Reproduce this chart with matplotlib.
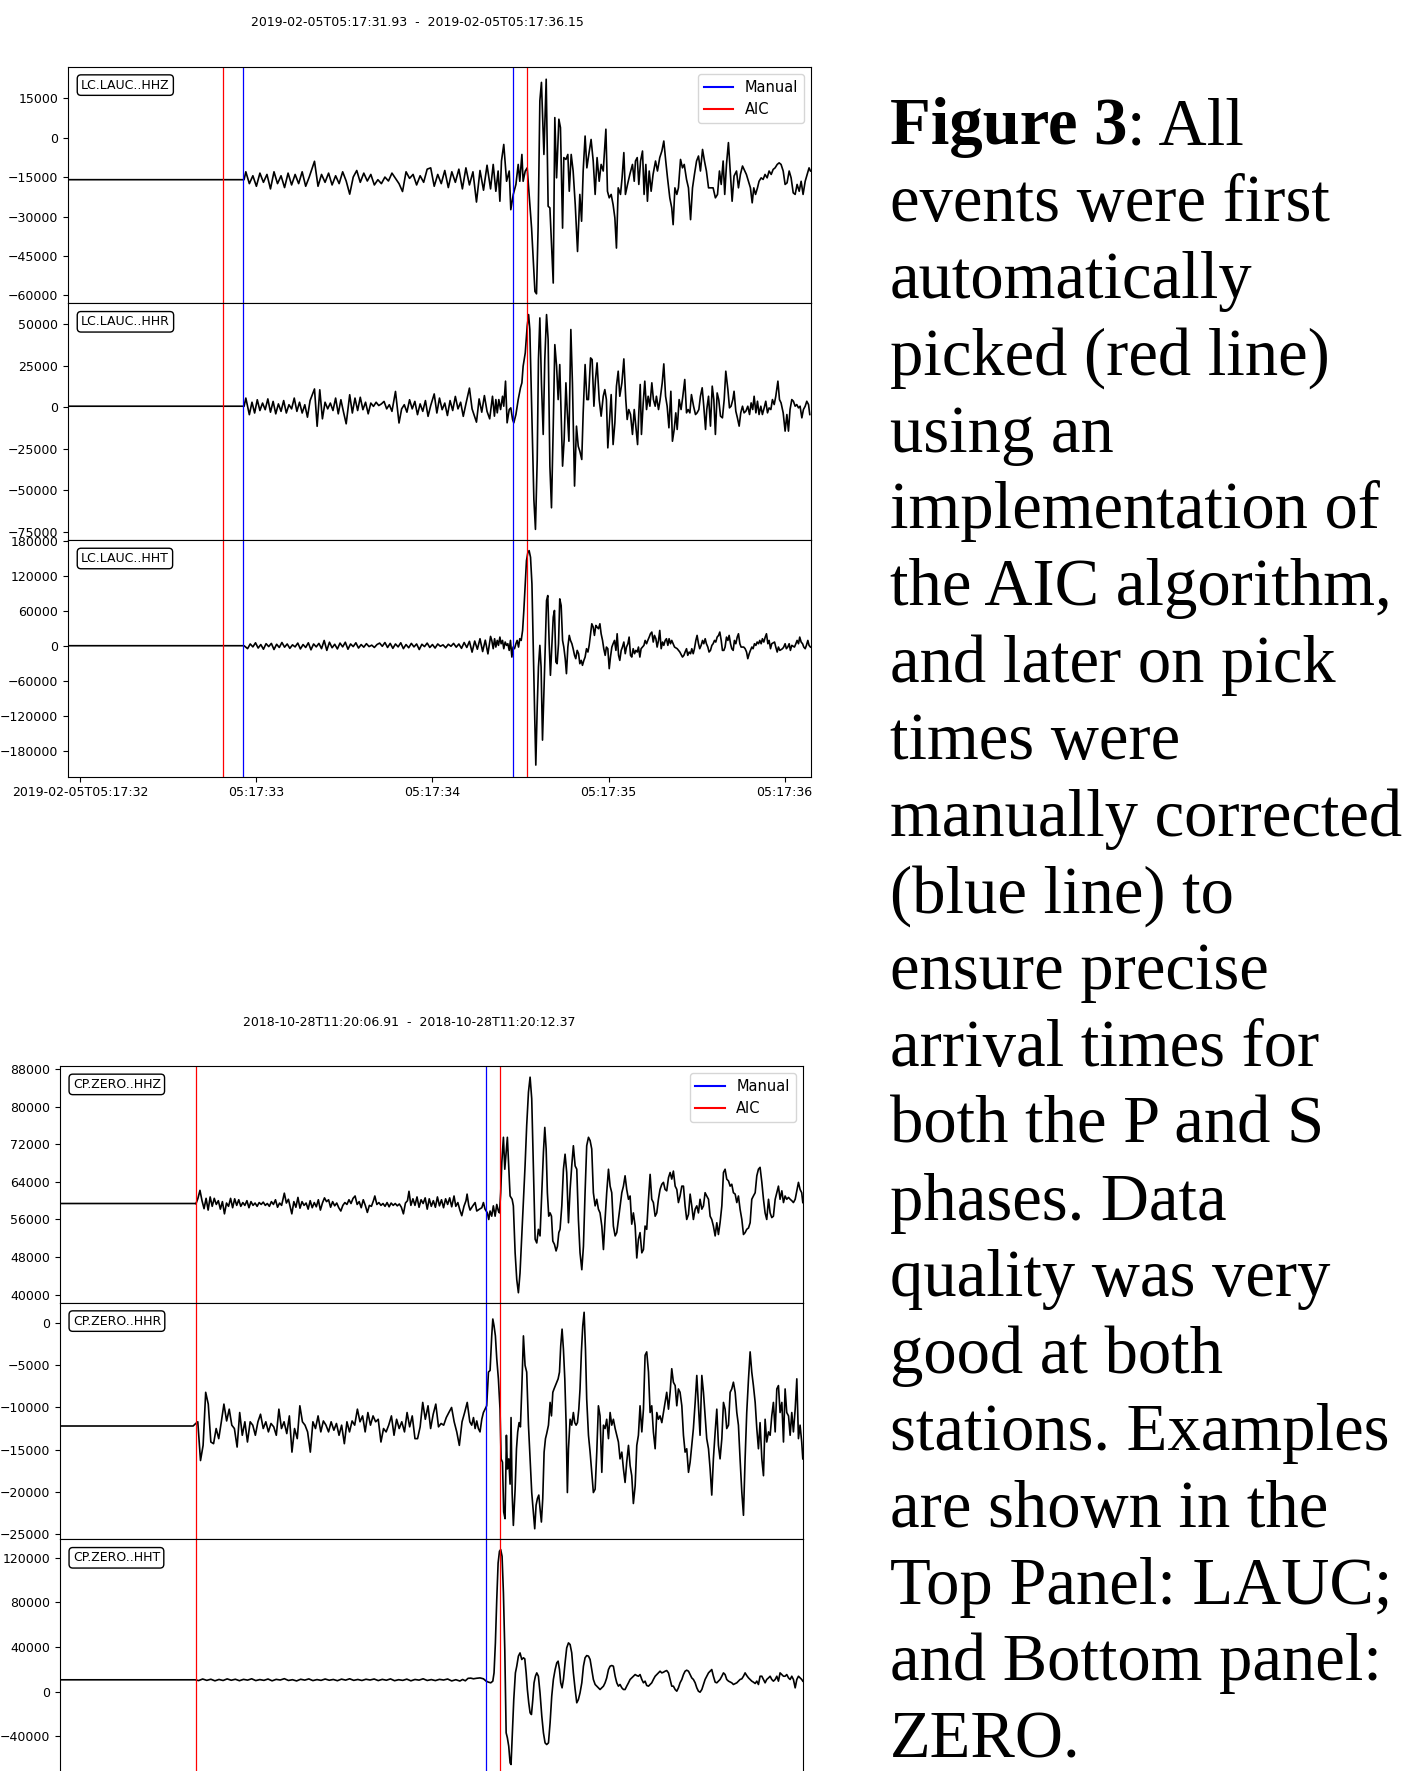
import numpy as np
import matplotlib
matplotlib.use("Agg")
import matplotlib.pyplot as plt
from matplotlib.lines import Line2D

# ---------------- data (time in s after the minute, amplitude in 1000 counts) ----------------
lauc_title = "2019-02-05T05:17:31.93  -  2019-02-05T05:17:36.15"
lauc_labels = ["LC.LAUC..HHZ", "LC.LAUC..HHR", "LC.LAUC..HHT"]
lauc_xlim = (31.93, 36.15)
lauc_xticks = [32, 33, 34, 35, 36]
lauc_xticklabels = ["2019-02-05T05:17:32", "05:17:33", "05:17:34", "05:17:35", "05:17:36"]
lauc_aic = [32.81, 34.537]
lauc_manual = [32.926, 34.459]
lauc_ylims = [(-63000, 27000), (-80000, 62600), (-224500, 181200)]
lauc_yticks = [[15000, 0, -15000, -30000, -45000, -60000],
               [50000, 25000, 0, -25000, -50000, -75000],
               [180000, 120000, 60000, 0, -60000, -120000, -180000]]

zero_title = "2018-10-28T11:20:06.91  -  2018-10-28T11:20:12.37"
zero_labels = ["CP.ZERO..HHZ", "CP.ZERO..HHR", "CP.ZERO..HHT"]
zero_xlim = (6.91, 12.37)
zero_aic = [7.909, 10.148]
zero_manual = [10.045]
zero_ylims = [(38300, 88700), (-25650, 2450), (-75700, 136400)]
zero_yticks = [[88000, 80000, 72000, 64000, 56000, 48000, 40000],
               [0, -5000, -10000, -15000, -20000, -25000],
               [120000, 80000, 40000, 0, -40000]]

lauc_hhz = [
    (31.93, -16.0), (32.92, -16.0), (32.93, -16.0), (32.94, -13.0), (32.96, -17.5), (32.98, -14.5),
    (33.00, -18.5), (33.02, -13.5), (33.04, -17.0), (33.06, -14.0), (33.08, -19.5), (33.10, -13.0),
    (33.12, -17.5), (33.14, -14.5), (33.16, -19.0), (33.18, -13.5), (33.20, -18.0), (33.22, -14.0),
    (33.24, -17.5), (33.26, -13.0), (33.28, -18.5), (33.30, -15.0), (33.33, -9.0), (33.35, -18.5),
    (33.37, -14.0), (33.39, -17.0), (33.41, -13.5), (33.43, -18.0), (33.45, -14.5), (33.47, -17.5),
    (33.49, -13.0), (33.51, -16.5), (33.53, -21.5), (33.55, -15.0), (33.57, -12.5), (33.59, -17.0),
    (33.61, -13.5), (33.63, -16.5), (33.65, -14.0), (33.67, -18.0), (33.69, -16.0), (33.71, -17.5),
    (33.73, -15.0), (33.75, -16.5), (33.77, -13.5), (33.79, -15.5), (33.81, -17.5), (33.83, -20.5),
    (33.85, -13.0), (33.87, -15.5), (33.89, -14.0), (33.91, -18.0), (33.93, -14.5), (33.95, -17.0),
    (33.97, -12.0), (33.99, -11.5), (34.01, -18.5), (34.03, -14.0), (34.05, -17.5), (34.07, -12.5),
    (34.09, -19.0), (34.11, -13.0), (34.13, -17.0), (34.15, -12.0), (34.17, -19.5), (34.19, -11.5),
    (34.21, -18.0), (34.23, -13.0), (34.25, -24.5), (34.27, -12.5), (34.29, -20.0), (34.31, -10.5),
    (34.33, -19.5), (34.345, -10.2), (34.360, -20.4), (34.373, -12.7), (34.383, -24.2), (34.392, -8.9),
    (34.405, -2.6), (34.421, -16.6), (34.436, -12.7), (34.445, -27.4), (34.459, -21.6), (34.474, -17.8),
    (34.487, -10.2), (34.496, -16.6), (34.508, -6.4), (34.515, -16.6), (34.527, -12.7), (34.538, -11.5),
    (34.563, -34.4), (34.582, -58.5), (34.591, -59.4), (34.600, -34.4), (34.610, 14.0), (34.619, 21.0),
    (34.633, -6.4), (34.646, 22.2), (34.657, -26.1), (34.667, -26.7), (34.686, -55.3), (34.695, 7.6),
    (34.705, -15.3), (34.718, 7.0), (34.727, 3.8), (34.739, -34.4), (34.746, -7.6), (34.758, -8.3),
    (34.769, -6.4), (34.777, -20.4), (34.788, -6.4), (34.799, -12.7), (34.811, -25.5), (34.824, -43.3),
    (34.837, -21.6), (34.847, -31.8), (34.856, -12.7), (34.867, 0.6), (34.877, -11.5), (34.888, -6.4),
    (34.901, -0.7), (34.913, -8.9), (34.924, -21.6), (34.935, -7.6), (34.947, -16.6), (34.958, -10.2),
    (34.970, -12.7), (34.985, 3.2), (34.994, -20.4), (35.004, -22.9), (35.015, -21.6), (35.026, -25.5),
    (35.036, -30.5), (35.045, -42.0), (35.055, -19.1), (35.068, -21.6), (35.077, -15.3), (35.087, -5.7),
    (35.096, -21.6), (35.108, -17.8), (35.121, -14.0), (35.136, -10.2), (35.146, -16.6), (35.153, -8.9),
    (35.163, -7.6), (35.172, -17.8), (35.182, -8.9), (35.193, -5.1), (35.202, -21.6), (35.212, -10.2),
    (35.221, -24.2), (35.231, -12.7), (35.242, -20.4), (35.253, -14.0), (35.267, -8.9), (35.278, -12.7),
    (35.291, -7.6), (35.303, -5.1), (35.314, -1.3), (35.325, -8.9), (35.335, -15.3), (35.348, -22.9),
    (35.359, -26.7), (35.367, -33.1), (35.377, -19.1), (35.388, -21.6), (35.397, -19.1), (35.409, -8.3),
    (35.420, -11.5), (35.430, -10.2), (35.443, -15.9), (35.454, -19.1), (35.466, -31.2), (35.477, -19.1),
    (35.488, -14.0), (35.500, -8.9), (35.511, -7.0), (35.522, -12.7), (35.534, -4.5), (35.545, -8.9),
    (35.556, -12.7), (35.568, -19.1), (35.594, -19.1), (35.607, -22.9), (35.619, -21.6), (35.630, -12.7),
    (35.640, -17.8), (35.651, -8.9), (35.660, -21.6), (35.670, -10.2), (35.681, -1.9), (35.691, -12.7),
    (35.702, -24.2), (35.713, -14.6), (35.727, -12.7), (35.738, -19.1), (35.749, -14.0), (35.761, -10.8),
    (35.783, -14.0), (35.795, -16.6), (35.806, -19.1), (35.816, -24.8), (35.825, -19.1), (35.835, -21.6),
    (35.846, -19.1), (35.855, -16.6), (35.867, -15.3), (35.878, -15.9), (35.889, -14.0), (35.901, -15.3),
    (35.912, -12.7), (35.924, -14.0), (35.935, -12.1), (35.946, -11.5), (35.958, -10.2), (35.969, -9.6),
    (35.980, -10.2), (35.992, -12.7), (36.003, -17.8), (36.014, -17.2), (36.026, -12.7), (36.037, -15.3),
    (36.049, -21.0), (36.060, -21.6), (36.071, -17.8), (36.083, -20.4), (36.094, -16.6), (36.105, -21.6),
    (36.117, -16.6), (36.128, -14.0), (36.139, -11.5), (36.147, -12.7),
]

lauc_hhr = [
    (31.93, 0.6), (32.92, 0.6), (32.93, 0.5), (32.94, 5.5), (32.96, -4.5), (32.975, 3.0), (32.99, -3.5),
    (33.005, 4.5), (33.02, -2.0), (33.035, 2.5), (33.05, -1.5), (33.065, 5.0), (33.08, -3.0), (33.095, 3.5),
    (33.11, -4.0), (33.125, 2.0), (33.14, -2.5), (33.155, 4.0), (33.17, -3.5), (33.185, 1.5), (33.20, -1.0),
    (33.215, 5.5), (33.23, -2.5), (33.245, 3.0), (33.26, -3.5), (33.275, 1.5), (33.29, -6.0), (33.305, 4.0),
    (33.33, 11.0), (33.345, -11.5), (33.36, 10.5), (33.375, -7.0), (33.39, 3.0), (33.405, -1.0), (33.42, 2.5),
    (33.435, -2.0), (33.45, 5.5), (33.465, -4.0), (33.48, 4.5), (33.495, -3.0), (33.51, -10.0), (33.53, 7.5),
    (33.545, -3.5), (33.56, 5.5), (33.575, -2.0), (33.59, 6.0), (33.605, -1.5), (33.62, 3.0), (33.635, -4.0),
    (33.65, 2.5), (33.665, 0.5), (33.68, 3.0), (33.695, 1.0), (33.71, 2.0), (33.725, 3.5), (33.74, -1.0),
    (33.755, 1.5), (33.77, -2.5), (33.79, 9.5), (33.81, -9.5), (33.825, -1.0), (33.84, 1.5), (33.855, -3.0),
    (33.87, 4.5), (33.885, -1.0), (33.90, 3.5), (33.915, -4.5), (33.93, 2.0), (33.945, -2.5), (33.96, 4.0),
    (33.975, -5.5), (33.99, 1.0), (34.01, 8.0), (34.025, -3.5), (34.04, 5.5), (34.055, -1.5), (34.07, 2.5),
    (34.085, -5.0), (34.10, 4.0), (34.115, -2.0), (34.13, 6.5), (34.145, -1.0), (34.16, 3.0), (34.175, -5.5),
    (34.19, 2.0), (34.21, 11.5), (34.225, -1.0), (34.25, -9.0), (34.265, 5.0), (34.28, -3.0), (34.295, 7.0),
    (34.31, -2.5), (34.325, -7.0), (34.341, 6.6), (34.352, -5.4), (34.360, 4.6), (34.368, -3.4), (34.377, 4.6),
    (34.387, -1.4), (34.398, 6.6), (34.405, 0.6), (34.415, 15.7), (34.424, -9.4), (34.436, -1.4), (34.445, -0.4),
    (34.455, -7.4), (34.462, -9.4), (34.474, -4.4), (34.487, 4.6), (34.500, 11.7), (34.508, 14.7), (34.515, 24.7),
    (34.527, 32.7), (34.538, 48.8), (34.546, 55.8), (34.553, 46.8), (34.565, -5.4), (34.576, -55.6), (34.585, -73.6),
    (34.595, -31.5), (34.602, 28.7), (34.610, 53.8), (34.619, 14.7), (34.629, -16.4), (34.638, 28.7), (34.648, 55.8),
    (34.657, 40.8), (34.667, -35.5), (34.676, -60.6), (34.686, -11.4), (34.695, 37.7), (34.705, 24.7), (34.714, 4.6),
    (34.723, 25.7), (34.731, -4.4), (34.739, -35.5), (34.748, -19.5), (34.758, 14.7), (34.765, -1.4), (34.775, -20.5),
    (34.786, 46.8), (34.795, 14.7), (34.807, -47.5), (34.818, -11.4), (34.828, -23.5), (34.837, -26.5), (34.848, -31.5),
    (34.856, -3.4), (34.867, 25.7), (34.877, 4.6), (34.886, 4.6), (34.898, 29.7), (34.907, 28.7), (34.917, 0.6),
    (34.926, 16.7), (34.935, 26.7), (34.947, 4.6), (34.958, -5.4), (34.970, 6.6), (34.979, 10.6), (34.988, 4.6),
    (34.996, -24.5), (35.004, -11.4), (35.015, 7.6), (35.026, -22.5), (35.036, -9.4), (35.045, 12.7), (35.055, 21.7),
    (35.064, 6.6), (35.076, 14.7), (35.087, 29.1), (35.098, 4.6), (35.106, -7.4), (35.115, -1.4), (35.125, -4.4),
    (35.136, -16.4), (35.146, -1.4), (35.155, -11.4), (35.165, -22.5), (35.172, -3.4), (35.180, 13.7), (35.187, -16.4),
    (35.197, 2.6), (35.206, 15.7), (35.216, -1.4), (35.225, 6.6), (35.235, 0.6), (35.246, 14.7), (35.255, 4.6),
    (35.265, 0.6), (35.272, 6.6), (35.284, -1.4), (35.293, 4.6), (35.305, 14.7), (35.314, 26.1), (35.324, 6.6),
    (35.333, 0.6), (35.343, -12.4), (35.354, 9.6), (35.363, -20.5), (35.373, -13.4), (35.382, -3.4), (35.390, -13.4),
    (35.401, 4.6), (35.412, -1.4), (35.422, 6.6), (35.433, 16.7), (35.443, -3.4), (35.452, -1.4), (35.462, -3.4),
    (35.471, 7.6), (35.483, 0.6), (35.494, -4.4), (35.503, -3.4), (35.513, -1.4), (35.522, 6.6), (35.532, 11.7),
    (35.541, 0.6), (35.551, -13.4), (35.558, -1.4), (35.568, 6.6), (35.579, -11.4), (35.589, 12.7), (35.598, 4.6),
    (35.607, -16.4), (35.617, 8.6), (35.626, 4.6), (35.636, -5.4), (35.647, -6.4), (35.657, 4.6), (35.666, 21.7),
    (35.678, 10.6), (35.687, -0.4), (35.696, 0.6), (35.706, 4.6), (35.713, 9.6), (35.723, -2.4), (35.732, -6.4),
    (35.742, -11.4), (35.751, -3.4), (35.761, 0.6), (35.770, -3.4), (35.780, -2.4), (35.791, 0.6), (35.801, -4.4),
    (35.810, 2.6), (35.819, -1.4), (35.827, 6.6), (35.837, -3.4), (35.846, 3.6), (35.855, -4.4), (35.865, 0.6),
    (35.874, -4.4), (35.884, -0.4), (35.893, 3.6), (35.903, -3.4), (35.912, -0.4), (35.922, -1.4), (35.931, 4.6),
    (35.941, 1.6), (35.950, 6.6), (35.962, 15.7), (35.971, 4.6), (35.980, 2.6), (35.992, -3.4), (36.003, -14.4),
    (36.013, -4.4), (36.022, -14.4), (36.031, -1.4), (36.041, 4.6), (36.050, 3.6), (36.060, 0.6), (36.069, 1.6),
    (36.079, -0.4), (36.088, 0.6), (36.098, -6.4), (36.107, -1.4), (36.117, 0.6), (36.126, 3.6), (36.136, 1.6),
    (36.143, -4.4),
]

lauc_hht = [
    (31.93, 0.0), (32.92, 0.0), (32.93, 0.0), (32.95, -5.0), (32.965, 3.0), (32.98, -2.0), (32.995, 5.0),
    (33.01, -4.0), (33.025, 2.0), (33.04, -6.0), (33.055, 3.5), (33.07, -1.5), (33.085, 4.0), (33.10, -6.5),
    (33.115, 2.5), (33.13, -3.0), (33.145, 5.5), (33.16, -2.5), (33.175, 3.0), (33.19, -4.5), (33.205, 1.5),
    (33.22, -2.0), (33.235, 4.5), (33.25, -5.5), (33.265, 2.0), (33.28, -3.0), (33.295, 5.0), (33.31, -7.0),
    (33.325, 3.0), (33.34, -2.0), (33.355, 4.0), (33.37, -5.0), (33.385, 9.0), (33.40, -8.0), (33.415, 6.0),
    (33.43, -3.5), (33.445, 2.5), (33.46, -5.5), (33.475, 4.5), (33.49, -2.0), (33.505, 6.0), (33.52, -6.0),
    (33.535, 3.0), (33.55, -1.5), (33.565, 5.0), (33.58, -4.0), (33.595, 2.0), (33.61, -2.5), (33.625, 3.5),
    (33.64, -1.5), (33.655, 1.0), (33.67, -3.0), (33.685, 2.0), (33.70, 4.5), (33.715, -1.0), (33.73, 5.5),
    (33.745, -3.0), (33.76, 4.0), (33.775, -4.5), (33.79, 3.0), (33.805, -2.0), (33.82, 5.0), (33.835, -5.0),
    (33.85, 2.0), (33.865, -3.5), (33.88, 4.0), (33.895, -2.0), (33.91, 3.0), (33.925, -6.5), (33.94, 2.5),
    (33.955, -1.5), (33.97, 4.5), (33.985, -3.0), (34.00, 2.0), (34.015, -4.0), (34.03, 3.0), (34.045, -1.0),
    (34.06, 1.5), (34.075, -3.5), (34.09, 2.5), (34.105, -1.0), (34.12, 4.0), (34.135, -2.5), (34.15, 3.0),
    (34.165, -4.5), (34.18, 5.5), (34.195, -3.0), (34.21, 7.5), (34.225, -11.0), (34.24, 8.0), (34.255, -6.0),
    (34.27, 12.0), (34.285, -10.0), (34.30, 9.5), (34.315, -14.0), (34.33, 16.0), (34.337, 9.1), (34.345, -5.1),
    (34.353, 12.0), (34.360, -2.3), (34.368, 9.1), (34.375, 0.6), (34.383, 14.8), (34.390, 3.4), (34.398, 9.1),
    (34.405, -5.1), (34.413, 6.3), (34.421, 0.6), (34.428, 3.4), (34.436, -8.0), (34.443, 9.1), (34.451, -19.4),
    (34.458, -2.3), (34.466, -5.1), (34.474, 3.4), (34.481, 9.1), (34.489, -2.3), (34.496, 12.0), (34.504, 9.1),
    (34.512, 26.2), (34.519, 60.4), (34.527, 106.0), (34.534, 145.9), (34.542, 160.1), (34.549, 163.0),
    (34.557, 151.6), (34.565, 106.0), (34.572, 3.4), (34.580, -110.5), (34.587, -204.6), (34.595, -104.8),
    (34.602, -36.5), (34.610, 0.6), (34.617, -36.5), (34.625, -161.8), (34.633, -82.0), (34.640, -8.0),
    (34.648, 77.5), (34.655, 86.0), (34.663, 3.4), (34.670, -50.7), (34.678, -2.3), (34.686, 49.0), (34.693, 60.4),
    (34.701, -27.9), (34.708, -30.8), (34.716, 3.4), (34.723, 80.3), (34.731, 68.9), (34.739, 9.1), (34.746, -2.3),
    (34.754, -22.2), (34.761, -47.9), (34.769, -2.3), (34.777, 17.7), (34.784, 9.1), (34.792, 3.4), (34.799, -5.1),
    (34.807, -16.5), (34.814, -22.2), (34.822, -8.0), (34.830, -13.7), (34.837, -30.8), (34.845, -25.1),
    (34.852, -33.6), (34.860, -25.1), (34.867, -19.4), (34.875, -5.1), (34.883, -10.8), (34.890, 0.6), (34.898, 20.5),
    (34.905, 37.6), (34.913, 31.9), (34.920, 17.7), (34.928, 34.8), (34.935, 31.9), (34.943, 29.1), (34.951, 37.6),
    (34.958, 20.5), (34.966, 9.1), (34.973, -5.1), (34.981, -16.5), (34.988, -2.3), (34.996, -5.1), (35.004, -39.3),
    (35.011, -19.4), (35.019, -2.3), (35.026, 3.4), (35.034, 9.1), (35.042, -8.0), (35.049, 20.5), (35.057, -16.5),
    (35.064, -25.1), (35.072, -8.0), (35.079, -2.3), (35.087, 6.3), (35.095, -13.7), (35.102, -2.3), (35.110, 3.4),
    (35.117, 14.8), (35.125, -16.5), (35.132, -19.4), (35.140, -5.1), (35.148, -13.7), (35.155, -8.0),
    (35.163, -10.8), (35.170, -2.3), (35.178, -19.4), (35.185, -5.1), (35.193, -2.3), (35.201, 0.6), (35.208, 9.1),
    (35.216, 3.4), (35.223, 9.1), (35.231, 14.8), (35.238, 20.5), (35.246, 23.4), (35.254, 6.3), (35.261, 17.7),
    (35.269, 12.0), (35.276, -2.3), (35.284, 9.1), (35.291, 26.2), (35.299, -5.1), (35.307, 6.3), (35.314, 0.6),
    (35.322, 9.1), (35.329, 12.0), (35.337, 0.6), (35.344, 12.0), (35.352, 3.4), (35.359, 9.1), (35.367, 3.4),
    (35.375, -2.3), (35.390, -5.1), (35.405, -10.8), (35.420, -19.4), (35.428, -16.5), (35.435, -10.8),
    (35.443, -5.1), (35.450, -16.5), (35.458, -10.8), (35.466, -13.7), (35.473, -5.1), (35.481, -13.7),
    (35.488, -5.1), (35.496, 9.1), (35.503, 17.7), (35.511, 3.4), (35.518, -5.1), (35.526, 0.6), (35.534, 9.1),
    (35.541, 3.4), (35.549, 12.0), (35.556, 3.4), (35.564, -2.3), (35.571, -10.8), (35.579, -8.0), (35.587, 0.6),
    (35.594, 3.4), (35.602, 9.1), (35.609, 6.3), (35.617, 14.8), (35.625, 17.7), (35.632, 23.4), (35.640, 9.1),
    (35.647, -8.0), (35.655, -8.0), (35.662, -2.3), (35.670, 14.8), (35.678, 9.1), (35.685, 17.7), (35.693, 3.4),
    (35.700, -5.1), (35.708, -8.0), (35.715, 9.1), (35.723, 3.4), (35.731, 14.8), (35.738, 20.5), (35.746, 3.4),
    (35.753, -2.3), (35.768, -2.3), (35.776, -5.1), (35.784, -10.8), (35.791, -22.2), (35.799, -13.7),
    (35.806, -8.0), (35.814, -2.3), (35.821, -5.1), (35.829, 3.4), (35.837, 0.6), (35.844, 6.3), (35.852, 3.4),
    (35.859, 9.1), (35.867, 3.4), (35.874, 12.0), (35.882, 6.3), (35.890, 14.8), (35.897, 20.5), (35.905, 3.4),
    (35.912, 9.1), (35.920, -5.1), (35.927, 3.4), (35.943, 6.3), (35.950, -2.3), (35.958, -10.8), (35.965, -2.3),
    (35.973, -8.0), (35.988, -5.1), (35.995, -2.3), (36.003, 3.4), (36.010, -5.1), (36.018, -2.3), (36.026, 3.4),
    (36.033, -8.0), (36.041, 0.6), (36.056, -2.3), (36.064, 3.4), (36.071, 9.1), (36.079, 3.4), (36.086, 14.8),
    (36.094, 6.3), (36.102, 3.4), (36.109, -2.3), (36.117, -5.1), (36.124, 0.6), (36.132, 9.1), (36.139, 0.6),
    (36.147, -2.3),
]

zero_hhz = [
    (6.91, 59.4), (7.905, 59.4), (7.91, 59.3), (7.925, 60.5), (7.94, 62.2), (7.955, 60.0), (7.97, 58.3),
    (7.985, 60.5), (8.00, 58.0), (8.015, 60.8), (8.03, 58.8), (8.045, 60.5), (8.06, 59.2), (8.075, 60.0),
    (8.09, 58.2), (8.105, 59.8), (8.12, 57.2), (8.135, 59.5), (8.15, 58.8), (8.165, 60.5), (8.18, 58.5),
    (8.195, 60.4), (8.21, 59.0), (8.225, 60.2), (8.24, 58.8), (8.255, 59.6), (8.27, 59.0), (8.285, 60.0),
    (8.30, 58.5), (8.315, 59.8), (8.33, 59.0), (8.345, 59.5), (8.36, 58.8), (8.375, 59.6), (8.39, 59.2),
    (8.405, 59.7), (8.42, 59.0), (8.435, 59.4), (8.45, 58.8), (8.465, 59.8), (8.48, 59.2), (8.495, 60.2),
    (8.51, 58.6), (8.525, 59.5), (8.54, 59.0), (8.56, 61.6), (8.575, 59.5), (8.59, 60.3), (8.605, 58.5),
    (8.615, 57.2), (8.63, 59.8), (8.645, 58.6), (8.66, 60.7), (8.675, 58.4), (8.69, 59.8), (8.705, 59.0),
    (8.72, 59.5), (8.735, 58.2), (8.75, 60.0), (8.765, 58.5), (8.78, 59.6), (8.795, 58.7), (8.81, 60.2),
    (8.825, 58.0), (8.84, 59.5), (8.855, 60.6), (8.87, 59.8), (8.885, 60.2), (8.90, 58.6), (8.915, 59.8),
    (8.93, 58.9), (8.945, 59.5), (8.96, 58.5), (8.975, 57.8), (8.99, 59.0), (9.005, 59.6), (9.02, 59.2),
    (9.035, 60.2), (9.05, 59.4), (9.065, 60.5), (9.08, 61.0), (9.095, 59.2), (9.11, 59.8), (9.125, 58.5),
    (9.14, 60.2), (9.155, 59.0), (9.17, 57.5), (9.185, 59.0), (9.20, 58.8), (9.215, 60.0), (9.225, 61.0),
    (9.24, 59.2), (9.255, 59.6), (9.27, 59.0), (9.285, 59.4), (9.30, 58.8), (9.315, 59.6), (9.33, 58.7),
    (9.345, 59.5), (9.36, 59.0), (9.375, 59.4), (9.39, 58.9), (9.405, 59.3), (9.42, 58.6), (9.435, 57.2),
    (9.45, 59.5), (9.465, 60.0), (9.476, 62.0), (9.49, 59.0), (9.505, 60.4), (9.52, 59.0), (9.535, 60.8),
    (9.55, 58.6), (9.565, 60.2), (9.58, 59.4), (9.595, 60.6), (9.61, 58.2), (9.625, 60.4), (9.64, 58.8),
    (9.655, 60.0), (9.67, 58.6), (9.685, 60.8), (9.70, 58.9), (9.715, 60.2), (9.73, 58.5), (9.745, 60.4),
    (9.76, 59.2), (9.775, 60.6), (9.79, 58.7), (9.807, 61.0), (9.82, 58.8), (9.835, 59.6), (9.85, 58.0),
    (9.864, 56.8), (9.88, 58.8), (9.895, 60.0), (9.903, 61.4), (9.915, 59.0), (9.925, 58.0),
    (9.945, 58.9), (9.962, 59.6), (9.974, 57.8), (9.994, 58.2), (10.011, 58.5), (10.023, 59.6), (10.035, 58.2),
    (10.052, 57.4), (10.062, 56.0), (10.072, 57.8), (10.084, 56.7), (10.096, 58.9), (10.109, 56.7),
    (10.121, 59.2), (10.133, 57.8), (10.141, 57.4), (10.150, 61.7), (10.158, 68.1), (10.170, 73.5),
    (10.180, 66.7), (10.190, 70.3), (10.199, 73.5), (10.209, 67.4), (10.219, 61.0), (10.234, 60.3),
    (10.243, 58.9), (10.256, 48.9), (10.268, 43.2), (10.280, 40.4), (10.292, 44.6), (10.305, 52.5),
    (10.317, 59.6), (10.329, 67.4), (10.341, 76.0), (10.354, 83.1), (10.366, 86.3), (10.378, 81.7),
    (10.390, 67.4), (10.403, 51.8), (10.415, 51.0), (10.427, 53.9), (10.439, 52.5), (10.452, 61.7),
    (10.464, 70.3), (10.474, 75.6), (10.484, 71.0), (10.493, 61.7), (10.503, 56.7), (10.513, 57.4),
    (10.523, 56.7), (10.533, 51.4), (10.545, 50.7), (10.557, 49.3), (10.567, 50.3), (10.577, 53.2),
    (10.586, 53.9), (10.599, 58.9), (10.611, 66.7), (10.623, 69.9), (10.635, 66.0), (10.648, 55.3),
    (10.660, 62.4), (10.672, 67.4), (10.684, 71.7), (10.697, 67.4), (10.709, 66.7), (10.721, 56.0),
    (10.733, 48.9), (10.746, 45.3), (10.758, 50.3), (10.770, 61.7), (10.782, 71.7), (10.795, 73.5),
    (10.807, 72.8), (10.819, 71.0), (10.831, 61.7), (10.844, 58.9), (10.856, 60.3), (10.868, 58.2),
    (10.880, 57.4), (10.893, 54.6), (10.905, 49.6), (10.917, 56.0), (10.929, 61.7), (10.942, 66.7),
    (10.954, 63.1), (10.966, 61.7), (10.978, 54.6), (10.991, 52.5), (11.003, 53.2), (11.015, 56.0),
    (11.027, 58.9), (11.040, 61.7), (11.052, 63.1), (11.064, 65.3), (11.076, 62.4), (11.089, 60.3),
    (11.101, 61.0), (11.113, 55.0), (11.125, 57.4), (11.138, 54.6), (11.150, 47.8), (11.162, 51.8),
    (11.174, 53.2), (11.187, 48.9), (11.199, 49.6), (11.211, 54.6), (11.223, 53.9), (11.236, 60.3),
    (11.248, 65.6), (11.260, 60.3), (11.272, 59.6), (11.285, 56.7), (11.297, 57.4), (11.309, 60.3),
    (11.321, 62.4), (11.334, 63.5), (11.346, 63.9), (11.358, 62.4), (11.370, 62.1), (11.383, 64.9),
    (11.395, 66.0), (11.407, 64.6), (11.419, 66.3), (11.432, 63.1), (11.444, 62.4), (11.456, 59.6),
    (11.468, 61.0), (11.481, 63.1), (11.493, 63.1), (11.505, 58.9), (11.517, 56.0), (11.530, 57.1),
    (11.542, 61.4), (11.554, 58.9), (11.566, 56.0), (11.579, 58.2), (11.591, 58.9), (11.603, 57.4),
    (11.615, 60.3), (11.628, 58.2), (11.640, 58.9), (11.652, 61.7), (11.664, 61.0), (11.677, 60.3),
    (11.689, 56.7), (11.701, 56.0), (11.713, 54.6), (11.726, 52.5), (11.738, 55.3), (11.750, 52.8),
    (11.762, 55.3), (11.775, 58.9), (11.787, 66.0), (11.799, 66.7), (11.811, 64.6), (11.824, 64.2),
    (11.836, 63.1), (11.848, 63.5), (11.860, 61.7), (11.873, 61.4), (11.885, 59.6), (11.897, 61.0),
    (11.909, 58.2), (11.922, 56.0), (11.934, 52.8), (11.946, 53.2), (11.958, 53.9), (11.971, 54.2),
    (11.983, 55.3), (11.995, 60.3), (12.007, 61.0), (12.020, 61.7), (12.032, 65.3), (12.044, 66.7),
    (12.056, 67.1), (12.069, 63.9), (12.081, 60.3), (12.093, 57.4), (12.105, 56.0), (12.118, 60.3),
    (12.130, 57.4), (12.142, 56.4), (12.154, 56.7), (12.167, 60.3), (12.179, 61.7), (12.191, 63.1),
    (12.203, 60.3), (12.216, 62.1), (12.228, 59.6), (12.240, 61.0), (12.252, 60.3), (12.265, 60.7),
    (12.277, 60.3), (12.289, 60.0), (12.301, 59.6), (12.314, 60.3), (12.326, 62.1), (12.338, 63.9),
    (12.350, 62.4), (12.362, 61.7), (12.370, 59.6),
]

zero_hhr = [
    (6.91, -12.2), (7.890, -12.2), (7.909, -11.9), (7.924, -11.7), (7.944, -16.3), (7.963, -14.5),
    (7.982, -8.2), (8.001, -9.6), (8.020, -14.1), (8.040, -14.3), (8.059, -12.5), (8.078, -13.7),
    (8.097, -11.7), (8.116, -9.6), (8.136, -11.6), (8.155, -10.2), (8.174, -12.1), (8.193, -12.5),
    (8.213, -14.7), (8.232, -10.6), (8.251, -13.3), (8.270, -11.7), (8.289, -14.1), (8.309, -11.7),
    (8.328, -12.1), (8.347, -13.3), (8.366, -11.7), (8.385, -10.8), (8.405, -12.5), (8.424, -11.7),
    (8.443, -12.9), (8.462, -11.9), (8.482, -12.3), (8.501, -13.3), (8.520, -10.2), (8.539, -12.5),
    (8.558, -11.7), (8.578, -13.1), (8.597, -11.0), (8.616, -15.3), (8.635, -12.5), (8.655, -13.7),
    (8.674, -9.8), (8.693, -11.7), (8.712, -12.1), (8.731, -12.9), (8.751, -15.3), (8.770, -11.7),
    (8.789, -12.5), (8.808, -11.0), (8.828, -12.9), (8.847, -11.6), (8.866, -12.1), (8.885, -12.9),
    (8.904, -11.7), (8.924, -12.7), (8.943, -11.9), (8.962, -13.3), (8.981, -12.1), (9.001, -14.3),
    (9.020, -11.7), (9.039, -12.9), (9.058, -11.6), (9.077, -12.1), (9.097, -10.2), (9.116, -11.7),
    (9.135, -11.0), (9.154, -12.9), (9.174, -10.6), (9.193, -12.1), (9.212, -11.0), (9.231, -11.7),
    (9.250, -11.4), (9.270, -14.1), (9.289, -12.5), (9.308, -12.9), (9.327, -12.1), (9.347, -11.0),
    (9.366, -13.3), (9.385, -11.4), (9.404, -12.5), (9.423, -11.7), (9.443, -12.9), (9.462, -10.6),
    (9.481, -12.3), (9.500, -11.0), (9.520, -13.7), (9.539, -13.7), (9.558, -12.3), (9.577, -9.4),
    (9.596, -11.4), (9.616, -9.8), (9.635, -12.5), (9.654, -10.8), (9.673, -9.6), (9.693, -12.3),
    (9.712, -11.9), (9.731, -12.1), (9.750, -11.2), (9.769, -10.6), (9.789, -10.0), (9.808, -11.7),
    (9.827, -12.9), (9.846, -14.5), (9.866, -11.7), (9.885, -10.6), (9.904, -9.4), (9.923, -11.7),
    (9.937, -12.1), (9.950, -11.2), (9.962, -12.5), (9.974, -11.6), (9.986, -12.5), (9.998, -12.9),
    (10.011, -11.4), (10.023, -10.6), (10.035, -10.2), (10.047, -9.8), (10.060, -5.8), (10.072, -5.6),
    (10.084, -1.5), (10.092, 0.5), (10.101, -0.3), (10.111, -1.5), (10.121, -4.2), (10.133, -6.6),
    (10.145, -10.2), (10.153, -16.1), (10.163, -16.5), (10.172, -22.4), (10.182, -23.2), (10.192, -13.3),
    (10.199, -17.3), (10.209, -16.1), (10.219, -19.1), (10.226, -11.2), (10.234, -20.1), (10.243, -24.0),
    (10.256, -19.7), (10.266, -14.9), (10.275, -12.9), (10.285, -11.8), (10.295, -12.3), (10.305, -7.8),
    (10.317, -1.5), (10.329, -5.0), (10.341, -5.8), (10.354, -12.1), (10.366, -16.1), (10.378, -20.1),
    (10.390, -22.4), (10.400, -24.4), (10.410, -21.6), (10.420, -20.8), (10.430, -20.4), (10.439, -22.0),
    (10.449, -23.6), (10.459, -20.8), (10.469, -15.3), (10.479, -13.7), (10.488, -13.1), (10.501, -12.1),
    (10.513, -9.4), (10.523, -11.0), (10.533, -8.2), (10.542, -7.8), (10.552, -7.4), (10.562, -7.0),
    (10.572, -6.6), (10.582, -5.8), (10.591, -2.7), (10.601, -0.7), (10.611, -3.1), (10.621, -6.6),
    (10.631, -12.1), (10.640, -20.1), (10.648, -14.9), (10.660, -11.4), (10.672, -12.1), (10.684, -10.6),
    (10.694, -11.8), (10.704, -12.1), (10.714, -11.8), (10.724, -10.2), (10.733, -7.8), (10.743, -3.4),
    (10.753, -0.3), (10.763, 1.3), (10.773, -3.1), (10.782, -9.0), (10.795, -13.3), (10.807, -15.3),
    (10.819, -17.7), (10.831, -20.1), (10.844, -19.7), (10.856, -15.3), (10.868, -9.8), (10.880, -11.0),
    (10.893, -17.7), (10.905, -12.1), (10.917, -12.5), (10.929, -11.4), (10.942, -13.7), (10.954, -10.6),
    (10.966, -12.1), (10.978, -11.4), (10.991, -12.5), (11.003, -13.3), (11.015, -14.1), (11.027, -16.1),
    (11.040, -15.3), (11.052, -17.3), (11.064, -18.9), (11.076, -16.5), (11.089, -14.5), (11.101, -16.9),
    (11.113, -18.1), (11.125, -21.4), (11.138, -19.3), (11.150, -14.5), (11.162, -13.3), (11.174, -9.8),
    (11.187, -12.9), (11.199, -10.2), (11.211, -3.8), (11.223, -3.4), (11.236, -5.8), (11.248, -10.6),
    (11.260, -9.8), (11.272, -12.9), (11.285, -14.9), (11.297, -10.6), (11.309, -11.4), (11.321, -11.0),
    (11.334, -11.8), (11.346, -10.6), (11.358, -9.4), (11.370, -8.2), (11.383, -10.2), (11.395, -8.2),
    (11.407, -5.4), (11.419, -7.0), (11.432, -7.4), (11.444, -9.8), (11.456, -7.8), (11.468, -8.2),
    (11.481, -9.8), (11.493, -13.3), (11.505, -15.3), (11.517, -14.9), (11.530, -17.7), (11.542, -16.5),
    (11.554, -14.5), (11.566, -12.5), (11.579, -9.4), (11.591, -6.2), (11.603, -9.8), (11.615, -13.3),
    (11.628, -6.2), (11.640, -8.2), (11.652, -11.0), (11.664, -13.7), (11.677, -14.9), (11.689, -17.3),
    (11.701, -20.4), (11.713, -16.1), (11.726, -12.9), (11.738, -10.2), (11.750, -14.5), (11.762, -16.1),
    (11.775, -13.7), (11.787, -9.4), (11.799, -10.2), (11.811, -12.5), (11.824, -12.1), (11.836, -8.2),
    (11.848, -7.8), (11.860, -7.0), (11.873, -8.2), (11.885, -10.6), (11.897, -12.1), (11.909, -16.1),
    (11.922, -20.1), (11.934, -22.8), (11.946, -16.1), (11.958, -10.6), (11.971, -6.6), (11.983, -3.4),
    (11.995, -5.8), (12.007, -7.4), (12.020, -9.4), (12.032, -12.5), (12.044, -14.9), (12.056, -11.8),
    (12.069, -16.1), (12.081, -18.1), (12.093, -11.4), (12.105, -14.1), (12.118, -12.9), (12.130, -13.3),
    (12.142, -11.0), (12.154, -9.4), (12.167, -12.9), (12.179, -7.8), (12.191, -7.4), (12.203, -10.6),
    (12.216, -9.4), (12.228, -14.1), (12.240, -7.8), (12.252, -10.6), (12.265, -11.0), (12.277, -13.3),
    (12.289, -10.6), (12.301, -12.9), (12.314, -10.2), (12.326, -6.6), (12.338, -13.7), (12.350, -12.1),
    (12.362, -14.1), (12.370, -16.1),
]

zero_hht = [
    (6.91, 10.5), (7.905, 10.5), (7.93, 9.8), (7.96, 11.2), (7.99, 10.0), (8.02, 11.0), (8.05, 9.6),
    (8.08, 10.8), (8.11, 9.9), (8.14, 11.3), (8.17, 10.1), (8.20, 11.0), (8.23, 9.7), (8.26, 10.9),
    (8.29, 10.2), (8.32, 11.4), (8.35, 9.8), (8.38, 10.7), (8.41, 10.0), (8.44, 11.2), (8.47, 9.6),
    (8.50, 10.9), (8.53, 10.3), (8.56, 11.5), (8.59, 9.9), (8.62, 10.6), (8.65, 9.5), (8.68, 11.0),
    (8.71, 10.2), (8.74, 11.3), (8.77, 9.8), (8.80, 10.7), (8.83, 10.0), (8.86, 11.2), (8.89, 10.1),
    (8.92, 10.8), (8.95, 9.7), (8.98, 11.1), (9.01, 10.2), (9.04, 11.4), (9.07, 10.0), (9.10, 10.8),
    (9.13, 9.9), (9.16, 11.0), (9.19, 10.3), (9.22, 11.2), (9.25, 9.8), (9.28, 10.9), (9.31, 10.1),
    (9.34, 11.3), (9.37, 9.7), (9.40, 10.6), (9.43, 10.0), (9.46, 11.1), (9.49, 9.6), (9.52, 10.8),
    (9.55, 10.2), (9.58, 11.4), (9.61, 9.9), (9.64, 10.7), (9.67, 9.8), (9.70, 10.9), (9.73, 10.3),
    (9.76, 11.2), (9.79, 9.5), (9.82, 10.6), (9.85, 9.4), (9.87, 10.8), (9.89, 9.6), (9.91, 11.8),
    (9.93, 12.0), (9.950, 11.4), (9.974, 11.9), (9.998, 12.2), (10.023, 11.4), (10.043, 9.3),
    (10.060, 8.4), (10.077, 7.8), (10.092, 9.3), (10.101, 16.7), (10.111, 43.6), (10.121, 82.4),
    (10.131, 115.2), (10.141, 125.7), (10.150, 127.2), (10.160, 121.2), (10.170, 88.4), (10.180, 37.6),
    (10.190, -37.0), (10.199, -41.5), (10.209, -49.0), (10.219, -63.9), (10.226, -65.4), (10.236, -37.0),
    (10.246, -7.2), (10.258, 16.7), (10.268, 22.7), (10.280, 31.7), (10.292, 34.6), (10.305, 28.7),
    (10.317, 30.2), (10.327, 29.3), (10.337, 16.7), (10.346, 1.8), (10.356, -10.1), (10.366, -19.1),
    (10.376, -20.6), (10.386, -7.2), (10.395, 7.8), (10.405, 13.7), (10.415, 16.7), (10.427, 13.7),
    (10.439, -1.2), (10.452, -22.1), (10.464, -37.0), (10.476, -46.0), (10.488, -47.5), (10.501, -46.0),
    (10.513, -28.0), (10.525, -4.2), (10.537, 10.8), (10.550, 19.7), (10.562, 25.7), (10.572, 27.2),
    (10.582, 19.7), (10.591, 7.8), (10.601, 3.3), (10.611, 10.8), (10.623, 25.7), (10.635, 39.1),
    (10.648, 43.6), (10.660, 42.1), (10.672, 34.6), (10.684, 16.7), (10.697, 1.8), (10.709, -10.1),
    (10.721, -7.2), (10.733, -1.2), (10.746, 7.8), (10.758, 22.7), (10.770, 30.2), (10.782, 32.2),
    (10.795, 31.7), (10.807, 28.7), (10.819, 19.7), (10.831, 10.8), (10.844, 6.3), (10.856, 4.8),
    (10.868, 3.3), (10.880, 1.8), (10.893, 3.3), (10.905, 4.8), (10.917, 7.8), (10.929, 12.2),
    (10.942, 19.7), (10.954, 22.7), (10.966, 23.3), (10.978, 22.7), (10.991, 13.7), (11.003, 7.8),
    (11.015, 4.8), (11.027, 6.3), (11.040, 3.3), (11.052, 1.8), (11.064, 1.8), (11.076, 4.8),
    (11.089, 7.8), (11.101, 10.8), (11.113, 12.2), (11.125, 13.7), (11.138, 15.2), (11.150, 14.3),
    (11.162, 13.7), (11.174, 15.2), (11.187, 10.8), (11.199, 7.8), (11.211, 9.3), (11.223, 5.4),
    (11.236, 4.8), (11.248, 6.3), (11.260, 7.8), (11.272, 10.8), (11.285, 13.7), (11.297, 15.2),
    (11.309, 16.7), (11.321, 18.2), (11.334, 16.7), (11.346, 17.3), (11.358, 18.2), (11.370, 18.8),
    (11.383, 16.7), (11.395, 10.8), (11.407, 4.8), (11.419, 4.8), (11.432, 1.8), (11.444, 0.3),
    (11.456, 3.3), (11.468, 7.8), (11.481, 10.8), (11.493, 15.2), (11.505, 18.2), (11.517, 19.1),
    (11.530, 18.2), (11.542, 15.2), (11.554, 12.2), (11.566, 10.8), (11.579, 7.8), (11.591, 3.3),
    (11.603, 0.3), (11.615, -0.6), (11.628, 1.8), (11.640, 6.3), (11.652, 10.8), (11.664, 13.7),
    (11.677, 16.7), (11.689, 18.2), (11.701, 19.7), (11.713, 13.7), (11.726, 8.4), (11.738, 7.8),
    (11.750, 9.3), (11.762, 10.8), (11.775, 13.7), (11.787, 16.7), (11.799, 15.2), (11.811, 10.8),
    (11.824, 9.3), (11.848, 7.8), (11.860, 6.3), (11.885, 7.8), (11.897, 9.3), (11.909, 10.8),
    (11.922, 11.4), (11.934, 13.7), (11.946, 16.7), (11.958, 14.3), (11.971, 12.2), (11.983, 10.8),
    (11.995, 9.3), (12.007, 8.4), (12.020, 7.2), (12.032, 9.3), (12.044, 6.3), (12.056, 13.7),
    (12.069, 13.7), (12.081, 10.8), (12.093, 7.8), (12.105, 10.8), (12.118, 12.2), (12.130, 13.7),
    (12.142, 10.8), (12.154, 9.3), (12.167, 10.8), (12.179, 13.7), (12.191, 9.3), (12.203, 16.7),
    (12.216, 15.2), (12.228, 13.7), (12.240, 13.7), (12.252, 15.2), (12.265, 12.2), (12.277, 10.8),
    (12.289, 13.7), (12.301, 10.8), (12.314, 3.3), (12.326, 10.8), (12.338, 13.7), (12.350, 12.2),
    (12.362, 10.8), (12.370, 9.3),
]

caption_lines = [
    "events were first", "automatically", "picked (red line)", "using an",
    "implementation of", "the AIC algorithm,", "and later on pick", "times were",
    "manually corrected", "(blue line) to", "ensure precise", "arrival times for",
    "both the P and S", "phases. Data", "quality was very", "good at both",
    "stations. Examples", "are shown in the", "Top Panel: LAUC;", "and Bottom panel:",
    "ZERO.",
]

# ---------------- layout ----------------
W, H = 1425, 1771
fig = plt.figure(figsize=(W / 100, H / 100), dpi=100)
AX_W, AX_H = 743.0, 236.7


def panel(left_px, top_px, traces, labels, xlim, ylims, yticks, aic, manual):
    axes = []
    for i in range(3):
        bottom = 1 - (top_px + (i + 1) * AX_H) / H
        ax = fig.add_axes([left_px / W, bottom, AX_W / W, AX_H / H])
        t, v = np.array(traces[i]).T
        ax.plot(t, v * 1000, color="k", lw=1.2)
        for x in aic:
            ax.axvline(x, color="r", lw=0.9)
        for x in manual:
            ax.axvline(x, color="b", lw=0.9)
        ax.set_xlim(*xlim)
        ax.set_ylim(*ylims[i])
        ax.set_yticks(yticks[i])
        ax.tick_params(axis="y", labelsize=9)
        ax.tick_params(axis="x", bottom=False, labelbottom=False)
        ax.annotate(labels[i], xy=(0, 1), xycoords="axes fraction", xytext=(13, -12),
                    textcoords="offset pixels", ha="left", va="top", fontsize=9,
                    bbox=dict(boxstyle="round,pad=0.3", fc="white", ec="k", lw=1))
        axes.append(ax)
    handles = [Line2D([], [], color="b", lw=1.5), Line2D([], [], color="r", lw=1.5)]
    axes[0].legend(handles, ["Manual", "AIC"], loc="upper right", fontsize=10.5)
    return axes


top_axes = panel(68, 66.6, [lauc_hhz, lauc_hhr, lauc_hht], lauc_labels, lauc_xlim,
                 lauc_ylims, lauc_yticks, lauc_aic, lauc_manual)
top_axes[2].tick_params(axis="x", bottom=True, labelbottom=True, labelsize=9)
top_axes[2].set_xticks(lauc_xticks, lauc_xticklabels)
fig.text(417.7 / W, 1 - 22.6 / H, lauc_title, ha="center", va="center", fontsize=9)

bot_axes = panel(59.8, 1065.9, [zero_hhz, zero_hhr, zero_hht], zero_labels, zero_xlim,
                 zero_ylims, zero_yticks, zero_aic, zero_manual)
fig.text(409.3 / W, 1 - 1022.9 / H, zero_title, ha="center", va="center", fontsize=9)

# caption on the right
x0 = 889.7 / W
base0 = 144.5
step = 76.8
serif = "Liberation Serif"
bold = fig.text(x0, 1 - base0 / H, "Figure 3", fontsize=48, family=serif,
                fontweight="bold", va="baseline", ha="left")
renderer = fig.canvas.get_renderer()
bb = bold.get_window_extent(renderer)
fig.text(bb.x1 / W, 1 - base0 / H, ": All", fontsize=48, family=serif,
         va="baseline", ha="left")
for k, line in enumerate(caption_lines):
    fig.text(x0, 1 - (base0 + (k + 1) * step) / H, line, fontsize=48, family=serif,
             va="baseline", ha="left")

fig.savefig("out.png", dpi=100)
